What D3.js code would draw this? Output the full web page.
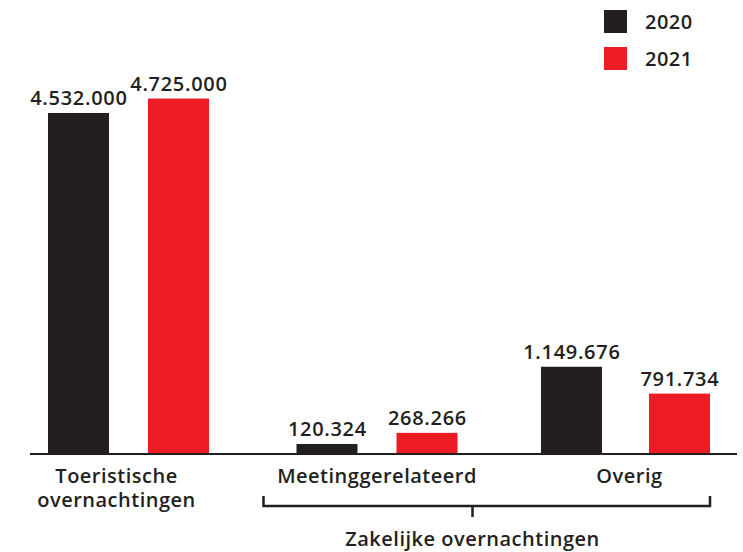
<!DOCTYPE html>
<html><head><meta charset="utf-8">
<script src="https://cdn.jsdelivr.net/npm/d3@7"></script>
<style>body{margin:0;background:#fff}svg{display:block}text{font-family:"Open Sans",sans-serif;font-weight:600;fill:#231f20}</style>
</head><body><svg id="c" width="743" height="552"></svg>
<script>
const categories = ["Toeristische overnachtingen", "Meetinggerelateerd", "Overig"];
const categoryLines = [["Toeristische", "overnachtingen"], ["Meetinggerelateerd"], ["Overig"]];
const series = ["2020", "2021"];
const values2020 = [4532000, 120324, 1149676];
const values2021 = [4725000, 268266, 791734];
const valueLabels2020 = ["4.532.000", "120.324", "1.149.676"];
const valueLabels2021 = ["4.725.000", "268.266", "791.734"];
const groupLabel = "Zakelijke overnachtingen";
const colors = {"2020": "#231f20", "2021": "#ed1c24"};

const svg = d3.select("#c");
const baseY = 453;
const y = d3.scaleLinear().domain([0, 4532000]).range([baseY, 113]);
const x0 = d3.scaleBand().domain(categories).range([48, 706]).paddingInner(0.352).paddingOuter(0);
const x1 = d3.scaleBand().domain(series).range([0, x0.bandwidth()]).paddingInner(0.39).paddingOuter(0);
const groupShift = [0, 0, -4];
const innerShift = {"2020": 0, "2021": 4};

const data = [];
categories.forEach((c, i) => {
  data.push({cat: c, i, s: "2020", v: values2020[i], lab: valueLabels2020[i]});
  data.push({cat: c, i, s: "2021", v: values2021[i], lab: valueLabels2021[i]});
});
const bx = d => x0(d.cat) + x1(d.s) + groupShift[d.i] + (d.i === 2 ? innerShift[d.s] * 2 : 0);

svg.selectAll("rect.bar").data(data).join("rect").attr("class", "bar")
  .attr("x", bx).attr("width", x1.bandwidth())
  .attr("y", d => y(d.v)).attr("height", d => baseY - y(d.v))
  .attr("fill", d => colors[d.s]);

svg.selectAll("text.val").data(data).join("text").attr("class", "val")
  .attr("x", d => bx(d) + x1.bandwidth() / 2 + 0.4)
  .attr("y", d => y(d.v) - 8)
  .attr("text-anchor", "middle").attr("font-size", 20).attr("letter-spacing", 0.7)
  .text(d => d.lab);

svg.append("line").attr("x1", 30).attr("x2", 737).attr("y1", baseY + 1).attr("y2", baseY + 1)
  .attr("stroke", "#231f20").attr("stroke-width", 2);

const labelOffsets = [-12, 0, 4];
categories.forEach((c, i) => {
  const cx = x0(c) + x0.bandwidth() / 2 + labelOffsets[i];
  categoryLines[i].forEach((l, j) => {
    svg.append("text").attr("text-anchor", "middle").attr("font-size", 20).attr("letter-spacing", 0.5)
      .attr("x", cx).attr("y", 483 + j * 23.5).text(l);
  });
});

// bracket
const bx1 = x0(categories[1]) - 33, bx2 = x0(categories[2]) + x0.bandwidth() + 4;
const bmid = x0(categories[1]) + x0.bandwidth() + 15;
svg.append("path").attr("d", `M${bx1},496 V506 H${bx2} V496 M${bmid},506 V517`)
  .attr("fill", "none").attr("stroke", "#231f20").attr("stroke-width", 2.5);
svg.append("text").attr("x", bmid).attr("y", 546).attr("text-anchor", "middle").attr("font-size", 20).attr("letter-spacing", 0.5).text(groupLabel);

// legend
const leg = svg.selectAll("g.leg").data(series).join("g").attr("class", "leg")
  .attr("transform", (d, i) => `translate(604,${10 + i * 37})`);
leg.append("rect").attr("width", 23).attr("height", 23).attr("fill", d => colors[d]);
leg.append("text").attr("x", 41).attr("y", 19).attr("font-size", 20).attr("letter-spacing", 0.5).text(d => d);
</script></body></html>
